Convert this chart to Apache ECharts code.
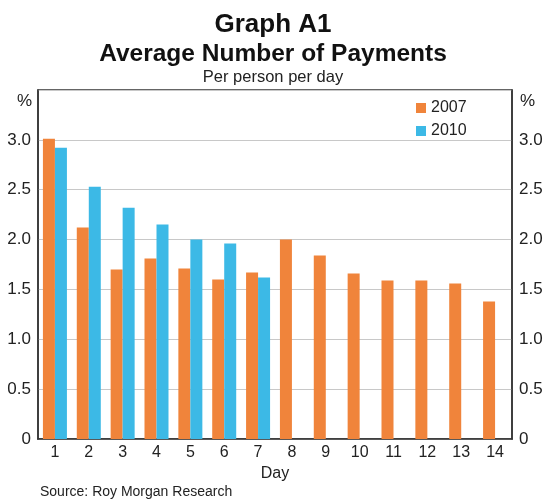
<!DOCTYPE html>
<html>
<head>
<meta charset="utf-8">
<script src="https://cdn.jsdelivr.net/npm/echarts@6/dist/echarts.min.js"></script>
<style>
  html, body { margin: 0; padding: 0; background: #fff; }
  #chart { width: 546px; height: 501px; }
</style>
</head>
<body>
<div id="chart"></div>
<script>
// Average number of payments per person per day, by diary day
const days = ['1','2','3','4','5','6','7','8','9','10','11','12','13','14'];
const payments2007 = [3.01, 2.12, 1.70, 1.81, 1.71, 1.60, 1.67, 2.00, 1.84, 1.66, 1.59, 1.59, 1.56, 1.38];
const payments2010 = [2.92, 2.53, 2.32, 2.15, 2.00, 1.96, 1.62, null, null, null, null, null, null, null];
const yTicks = [0, 0.5, 1.0, 1.5, 2.0, 2.5, 3.0];

const FONT = '"Liberation Sans", Arial, Helvetica, sans-serif';
const TEXT = '#222';
const ORANGE = '#F0843B';
const BLUE = '#3CB9E6';

function tickLabel(v) {
  if (yTicks.indexOf(v) < 0) return '';
  return v === 0 ? '0' : v.toFixed(1);
}

const yAxisBase = {
  type: 'value',
  min: 0,
  max: 3.5,
  interval: 0.5,
  axisLine: { show: true, lineStyle: { color: '#333', width: 1.5 } },
  axisTick: { show: false },
  splitLine: { show: false },
  axisLabel: { fontFamily: FONT, fontSize: 17, color: TEXT, margin: 7, formatter: tickLabel }
};

const chart = echarts.init(document.getElementById('chart'), null, { renderer: 'canvas' });
chart.setOption({
  animation: false,
  backgroundColor: '#fff',
  title: [
    { text: 'Graph A1', left: 'center', top: 7,
      textStyle: { fontFamily: FONT, fontSize: 26, fontWeight: 'bold', color: '#111' } },
    { text: 'Average Number of Payments', left: 'center', top: 37,
      textStyle: { fontFamily: FONT, fontSize: 24.5, fontWeight: 'bold', color: '#111' } },
    { text: 'Per person per day', left: 'center', top: 64,
      textStyle: { fontFamily: FONT, fontSize: 16.5, fontWeight: 'normal', color: TEXT } }
  ],
  legend: {
    left: 411,
    top: 95,
    orient: 'vertical',
    itemWidth: 10,
    itemHeight: 10,
    itemGap: 7,
    icon: 'rect',
    textStyle: { fontFamily: FONT, fontSize: 16, color: TEXT, padding: [0, 0, 0, 0] },
    data: ['2007', '2010']
  },
  grid: {
    left: 38, right: 34, top: 90, bottom: 62,
    show: true, borderColor: '#333', borderWidth: 1.5, backgroundColor: 'transparent'
  },
  xAxis: {
    type: 'category',
    data: days,
    name: 'Day',
    nameLocation: 'middle',
    nameGap: 27,
    nameTextStyle: { fontFamily: FONT, fontSize: 16, color: TEXT },
    axisLine: { show: true, lineStyle: { color: '#333', width: 1.5 } },
    axisTick: { show: false },
    axisLabel: { fontFamily: FONT, fontSize: 16, color: TEXT, margin: 6 }
  },
  yAxis: [
    Object.assign({}, yAxisBase, {
      position: 'left',
      splitLine: { show: true, lineStyle: { color: '#c8c8c8', width: 1 } }
    }),
    Object.assign({}, yAxisBase, { position: 'right' })
  ],
  graphic: [
    { type: 'text', left: 17, top: 93,
      style: { text: '%', font: '17px ' + FONT, fill: TEXT } },
    { type: 'text', left: 520, top: 93,
      style: { text: '%', font: '17px ' + FONT, fill: TEXT } },
    { type: 'text', left: 40, top: 485,
      style: { text: 'Source: Roy Morgan Research', font: '14px ' + FONT, fill: TEXT } }
  ],
  series: [
    { name: '2007', type: 'bar', data: payments2007, barWidth: 12, barGap: '0%',
      itemStyle: { color: ORANGE } },
    { name: '2010', type: 'bar', data: payments2010, barWidth: 12, barGap: '0%',
      itemStyle: { color: BLUE } }
  ]
});
</script>
</body>
</html>
